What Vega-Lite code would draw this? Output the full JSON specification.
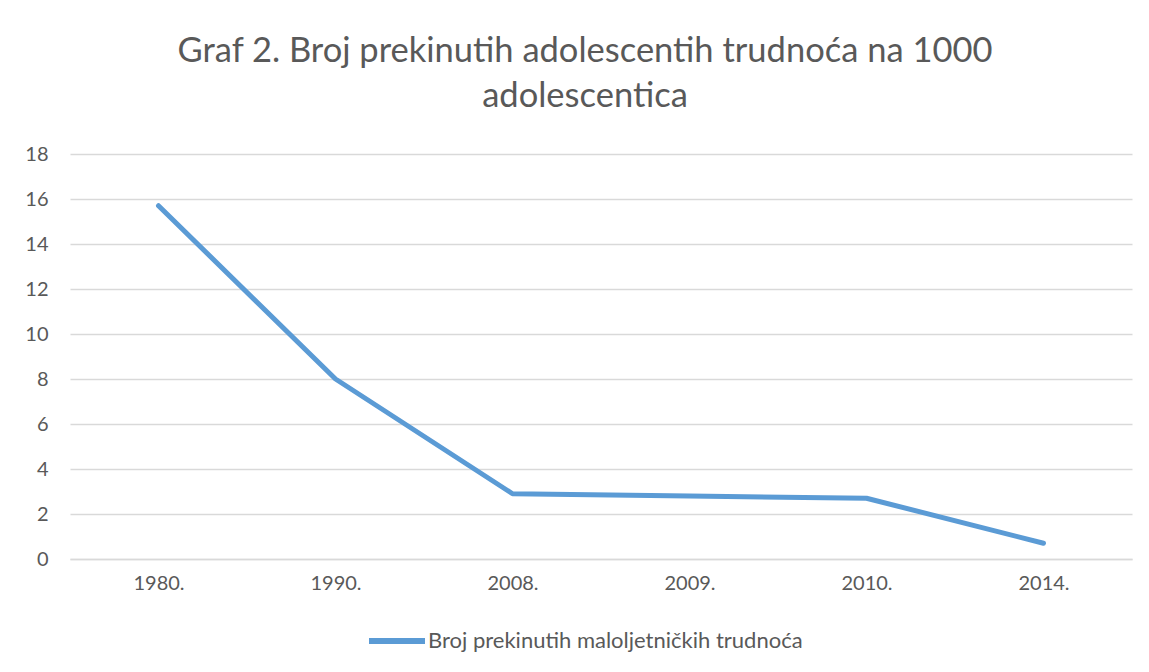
{
  "$schema": "https://vega.github.io/schema/vega-lite/v6.json",
  "autosize": "none",
  "width": 1062,
  "height": 405,
  "padding": {"left": 70, "top": 154, "right": 17, "bottom": 113},
  "background": "white",
  "title": {
    "text": ["Graf 2. Broj prekinutih adolescentih trudnoća na 1000", "adolescentica"],
    "font": "Lato",
    "fontSize": 34.5,
    "fontWeight": "normal",
    "color": "#595959",
    "anchor": "middle",
    "dx": -16,
    "lineHeight": 45,
    "offset": 30
  },
  "data": {
    "values": [
      {"godina": "1980.", "vrijednost": 15.7, "serija": "Broj prekinutih maloljetničkih trudnoća"},
      {"godina": "1990.", "vrijednost": 8.0, "serija": "Broj prekinutih maloljetničkih trudnoća"},
      {"godina": "2008.", "vrijednost": 2.9, "serija": "Broj prekinutih maloljetničkih trudnoća"},
      {"godina": "2009.", "vrijednost": 2.8, "serija": "Broj prekinutih maloljetničkih trudnoća"},
      {"godina": "2010.", "vrijednost": 2.7, "serija": "Broj prekinutih maloljetničkih trudnoća"},
      {"godina": "2014.", "vrijednost": 0.7, "serija": "Broj prekinutih maloljetničkih trudnoća"}
    ]
  },
  "mark": {"type": "line", "strokeWidth": 5, "strokeCap": "round", "strokeJoin": "round"},
  "encoding": {
    "x": {
      "field": "godina",
      "type": "ordinal",
      "sort": null,
      "scale": {"type": "point", "padding": 0.5},
      "axis": {
        "title": null,
        "labelAngle": 0,
        "labelFont": "Lato",
        "labelFontSize": 20,
        "labelColor": "#595959",
        "labelPadding": 14,
        "ticks": false,
        "domainColor": "#D9D9D9",
        "domainWidth": 1.5,
        "grid": false
      }
    },
    "y": {
      "field": "vrijednost",
      "type": "quantitative",
      "scale": {"domain": [0, 18], "nice": false},
      "axis": {
        "title": null,
        "values": [0, 2, 4, 6, 8, 10, 12, 14, 16, 18],
        "labelFont": "Lato",
        "labelFontSize": 20,
        "labelColor": "#595959",
        "labelPadding": 22,
        "ticks": false,
        "domain": false,
        "grid": true,
        "gridColor": "#D9D9D9",
        "gridWidth": 1.5
      }
    },
    "color": {
      "field": "serija",
      "type": "nominal",
      "scale": {"range": ["#5B9BD5"]},
      "legend": {
        "title": null,
        "orient": "none",
        "legendX": 296,
        "legendY": 456,
        "symbolType": "stroke",
        "symbolSize": 3136,
        "symbolStrokeWidth": 6,
        "labelFont": "Lato",
        "labelFontSize": 22,
        "labelColor": "#595959",
        "labelOffset": 0,
        "labelLimit": 0
      }
    }
  },
  "config": {"view": {"stroke": null}}
}
